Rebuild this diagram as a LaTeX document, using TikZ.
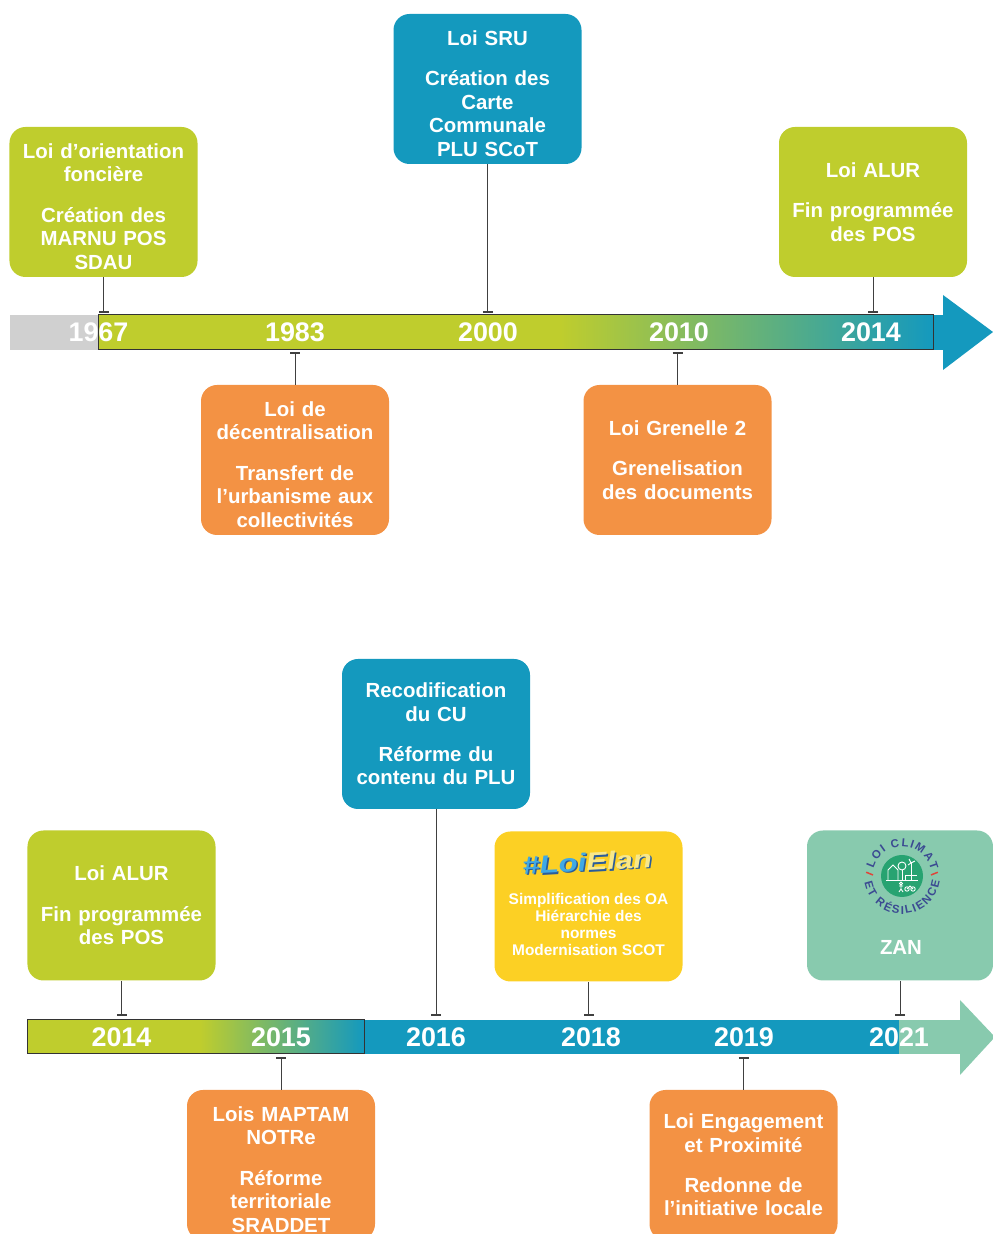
\documentclass[tikz,border=0pt]{standalone}
\usepackage{fontspec}
\setmainfont{Liberation Sans}
\usetikzlibrary{arrows.meta,decorations.text}
\definecolor{lawgreen}{HTML}{BFCD2D}
\definecolor{lawblue}{HTML}{1499BE}
\definecolor{laworange}{HTML}{F39244}
\definecolor{lawyellow}{HTML}{FCD024}
\definecolor{lawteal}{HTML}{88CAAE}
\definecolor{lawgrey}{HTML}{D0D0D0}
\definecolor{climgreen}{HTML}{27A371}
\definecolor{climblue}{HTML}{3B4A92}
\definecolor{climred}{HTML}{E0453A}
\definecolor{elanblue}{HTML}{3FA9E5}
\definecolor{elancream}{HTML}{F8E88A}
\definecolor{elandark}{HTML}{2A5C9A}
\newcommand\climfont{\bfseries\fontsize{11.5}{11.5}\selectfont}
\tikzset{
lawbox/.style={rounded corners=16bp, minimum width=188bp, minimum height=150bp,
  inner sep=0pt, text width=184bp, align=center, text=white,
  font=\bfseries\fontsize{20.5}{23.5}\selectfont},
lowtext/.style={execute at begin node={\rule{0pt}{24bp}}},
yearlabel/.style={text=white, font=\bfseries\fontsize{27}{27}\selectfont},
tickline/.style={draw=black!75, line width=1bp, {Bar[width=10bp,line width=2bp]}-},
elanlogo/.style={font=\bfseries\itshape\fontsize{25}{25}\selectfont,
  xscale=1.25, rotate=4, transform shape}
}
\begin{document}
\begin{tikzpicture}[x=1bp, y=1bp]
\useasboundingbox (0,0) rectangle (993,1234);

% first timeline
\fill[lawgrey] (10,884) rectangle (98,919);
\fill[lawgreen] (98,884) rectangle (561,919);
\shade[left color=lawgreen, right color=lawblue] (560,884) rectangle (933,919);
\fill[lawblue] (933,884) rectangle (944,919);
\fill[lawblue] (943,939) -- (993,902) -- (943,864) -- cycle;
\draw[black!80, line width=1bp] (98,884) rectangle (933,919);

\node[yearlabel] (y1967) at (98.5,901.5) {1967};
\node[yearlabel] (y1983) at (295,901.5) {1983};
\node[yearlabel] (y2000) at (488,901.5) {2000};
\node[yearlabel] (y2010) at (679,901.5) {2010};
\node[yearlabel] (y2014a) at (871,901.5) {2014};

\node[lawbox, lowtext, fill=lawgreen] (b1) at (103.5,1032)
  {Loi d’orientation\\ foncière\\[17bp] Création des\\ MARNU POS\\ SDAU};
\node[lawbox, lowtext, fill=lawblue] (b2) at (487.5,1145)
  {Loi SRU\\[17bp] Création des\\ Carte\\ Communale\\ PLU SCoT};
\node[lawbox, fill=lawgreen] (b3) at (873,1032)
  {Loi ALUR\\[17bp] Fin programmée\\ des POS};
\node[lawbox, lowtext, fill=laworange] (b4) at (295,774)
  {Loi de\\ décentralisation\\[17bp] Transfert de\\ l’urbanisme aux\\ collectivités};
\node[lawbox, fill=laworange] (b5) at (677.5,774)
  {Loi Grenelle 2\\[17bp] Grenelisation\\ des documents};

\coordinate (t1) at (103.5,921);
\coordinate (t2) at (487.5,921);
\coordinate (t3) at (873,921);
\coordinate (t4) at (295,882);
\coordinate (t5) at (677.5,882);
\draw[tickline] (t1) -- (b1.south);
\draw[tickline] (t2) -- (b2.south);
\draw[tickline] (t3) -- (b3.south);
\draw[tickline] (t4) -- (b4.north);
\draw[tickline] (t5) -- (b5.north);

% second timeline
\fill[lawgreen] (27,180) rectangle (201,214);
\shade[left color=lawgreen, right color=lawblue] (200,180) rectangle (364,214);
\fill[lawblue] (364,180) rectangle (899,214);
\fill[lawteal] (899,180) rectangle (961,214);
\fill[lawteal] (960,234) -- (995,197) -- (960,159) -- cycle;
\draw[black!80, line width=1bp] (27,180) rectangle (364,214);

\node[yearlabel] (y2014b) at (121.5,197) {2014};
\node[yearlabel] (y2015) at (281,197) {2015};
\node[yearlabel] (y2016) at (436,197) {2016};
\node[yearlabel] (y2018) at (591,197) {2018};
\node[yearlabel] (y2019) at (744,197) {2019};
\node[yearlabel] (y2021) at (899,197) {2021};

\node[lawbox, fill=lawgreen] (c1) at (121.5,328.5)
  {Loi ALUR\\[17bp] Fin programmée\\ des POS};
\node[lawbox, fill=lawblue] (c2) at (436,500)
  {Recodification\\ du CU\\[17bp] Réforme du\\ contenu du PLU};
\node[lawbox, fill=lawyellow] (c3) at (588.5,327.5) {};
\node[lawbox, fill=lawteal, minimum width=186bp] (c4) at (900,328.5) {};
\node[lawbox, lowtext, fill=laworange] (c5) at (281,69)
  {Lois MAPTAM\\ NOTRe\\[17bp] Réforme\\ territoriale\\ SRADDET};
\node[lawbox, fill=laworange] (c6) at (743.5,69)
  {Loi Engagement\\ et Proximité\\[17bp] Redonne de\\ l’initiative locale};

\node[elanlogo, text=elandark] (elanback) at (588.5,370.5) {\#LoiElan};
\node[elanlogo] (elan) at (587,372)
  {\textcolor{elanblue}{\#Loi}\textcolor{elancream}{Elan}};
\node[text=white, align=center, font=\bfseries\fontsize{15.5}{17}\selectfont]
  (c3text) at (588.5,309.5)
  {Simplification des OA\\ Hiérarchie des\\ normes\\ Modernisation SCOT};

\node[circle, fill=climgreen, minimum size=42bp, inner sep=0pt] (clim) at (902,358) {};
\begin{scope}[shift={(902,358)}, white, line width=0.9bp]
  \draw (-16,-4) -- (16,-4);
  \draw (-14,-4) -- (-14,6) -- (-9,11) -- (-4,6) -- (-4,-4);
  \draw (0,10) circle [radius=4];
  \draw (0,6) -- (0,-4);
  \draw (9,-4) -- (9,13);
  \draw (9,13) -- (13,15) (9,13) -- (7,17) (9,13) -- (6,11);
  \draw (3,-4) -- (3,1) -- (15,1);
  \draw (-1,-7.5) circle [radius=1.4];
  \draw (-1,-9) -- (-1,-13) -- (-3,-16) (-1,-13) -- (1,-16) (-3,-10) -- (1,-10);
  \draw (5,-13) circle [radius=2.2] (11,-13) circle [radius=2.2];
  \draw (5,-13) -- (8,-10) -- (11,-13);
\end{scope}
\path[decorate, decoration={text along path, text={|\climfont|LOI CLIMAT},
  text align={fit to path}, text color=climblue}]
  ([shift={(165:29.5)}]clim.center) arc[start angle=165, end angle=12, radius=29.5];
\path[decorate, decoration={text along path, text={|\climfont|ET RÉSILIENCE},
  text align={fit to path}, text color=climblue}]
  ([shift={(190:38)}]clim.center) arc[start angle=190, end angle=352, radius=38];
\draw[climred, line width=1.5bp] ([shift={(178:29)}]clim.center) -- ([shift={(174:36)}]clim.center);
\draw[climred, line width=1.5bp] ([shift={(2:29)}]clim.center) -- ([shift={(6:36)}]clim.center);
\node[text=white, font=\bfseries\fontsize{20.5}{20.5}\selectfont] (zan) at (901,287) {ZAN};

\coordinate (s1) at (121.5,218);
\coordinate (s2) at (436,218);
\coordinate (s3) at (588.5,218);
\coordinate (s4) at (900,218);
\coordinate (s5) at (281,177);
\coordinate (s6) at (743.5,177);
\draw[tickline] (s1) -- (c1.south);
\draw[tickline] (s2) -- (c2.south);
\draw[tickline] (s3) -- (c3.south);
\draw[tickline] (s4) -- (c4.south);
\draw[tickline] (s5) -- (c5.north);
\draw[tickline] (s6) -- (c6.north);
\end{tikzpicture}
\end{document}
